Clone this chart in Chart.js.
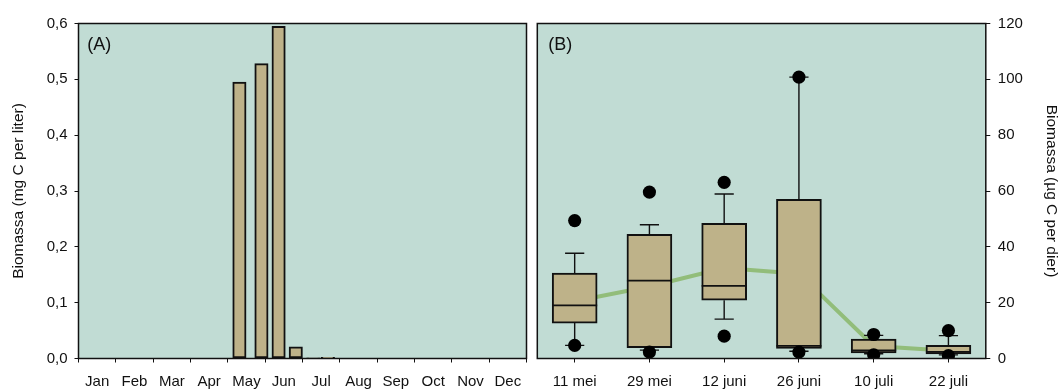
<!DOCTYPE html>
<html>
<head>
<meta charset="utf-8">
<script src="https://cdn.jsdelivr.net/npm/chart.js@4"></script>
<style>
  body { margin: 0; background: #fff; }
  #wrap { position: relative; width: 1061px; height: 390px; }
  #chartA { position: absolute; left: 0; top: 0; }
  #chartB { position: absolute; left: 530px; top: 0; }
</style>
</head>
<body>
<div id="wrap">
  <canvas id="chartA" width="530" height="390"></canvas>
  <canvas id="chartB" width="531" height="390"></canvas>
</div>
<script>
//////////////////////
// Panel A data: biomass per liter
//////////////////////
const months = ["Jan", "Feb", "Mar", "Apr", "May", "Jun", "Jul", "Aug", "Sep", "Oct", "Nov", "Dec"];
// sampling moments, in months from 1 January
const sampleMonth = [4.31, 4.90, 5.36, 5.82, 6.29, 6.68];
const biomassLiter = [0.495, 0.528, 0.595, 0.021, 0.001, 0.002];
const yTicksA = [0, 0.1, 0.2, 0.3, 0.4, 0.5, 0.6];

//////////////////////
// Panel B data: biomass per animal (box plots)
//////////////////////
const sampleDates = ["11 mei", "29 mei", "12 juni", "26 juni", "10 juli", "22 juli"];
const whiskerLow  = [4.7, 3.0, 14.1, 2.6, 1.7, 1.3];
const q1          = [12.7, 3.9, 20.9, 3.6, 2.0, 1.6];
const median      = [19.0, 27.9, 26.0, 4.5, 2.9, 2.4];
const q3          = [30.6, 44.5, 48.4, 57.0, 7.0, 4.7];
const whiskerHigh = [37.7, 47.9, 58.9, 100.8, 8.3, 8.2];
const meanValues  = [20.5, 25.8, 32.4, 30.4, 4.5, 2.8];
const outlierDate  = ["11 mei", "11 mei", "29 mei", "29 mei", "12 juni", "12 juni", "26 juni", "26 juni", "10 juli", "10 juli", "22 juli", "22 juli"];
const outlierValue = [49.4, 4.7, 59.6, 2.3, 63.1, 8.0, 100.8, 2.3, 8.6, 1.3, 10.0, 1.0];
const yTicksB = [0, 20, 40, 60, 80, 100, 120];

//////////////////////
// Styling
//////////////////////
const FONT = "'Liberation Sans', Arial, Helvetica, sans-serif";
const PANEL_BG = "rgb(193,220,212)";
const BAR_FILL = "rgb(190,178,137)";
const LINE_GREEN = "rgb(146,189,122)";
const INK = "#111";

Chart.defaults.font.family = FONT;
Chart.defaults.color = INK;
Chart.defaults.animation = false;
Chart.defaults.plugins.legend.display = false;
Chart.defaults.plugins.tooltip.enabled = false;

// x axes: fixed height, and no extra side padding for the outer labels
function fitXAxis(s) {
    s.height = 31.5;
    s.paddingLeft = 0;
    s.paddingRight = 0;
}

// background, frame and panel letter
const panelPlugin = {
    id: 'panel',
    beforeDraw(chart, args, opts) {
        const { ctx, chartArea: a } = chart;
        ctx.save();
        ctx.fillStyle = PANEL_BG;
        ctx.fillRect(a.left, a.top, a.right - a.left, a.bottom - a.top);
        ctx.restore();
    },
    afterDraw(chart, args, opts) {
        const { ctx, chartArea: a } = chart;
        ctx.save();
        ctx.strokeStyle = INK;
        ctx.lineWidth = 1.5;
        ctx.strokeRect(a.left, a.top, a.right - a.left, a.bottom - a.top);
        ctx.fillStyle = INK;
        ctx.font = "18px " + FONT;
        ctx.textBaseline = "alphabetic";
        ctx.fillText(opts.letter, a.left + opts.dx, a.top + 26.5);
        ctx.restore();
    }
};

//////////////////////
// Panel A
//////////////////////
new Chart(document.getElementById('chartA'), {
    type: 'bar',
    data: {
        datasets: [{
            data: sampleMonth.map((m, i) => ({ x: m, y: biomassLiter[i] })),
            backgroundColor: BAR_FILL,
            borderColor: INK,
            borderWidth: 2,
            borderSkipped: false,
            barThickness: 13.4
        }]
    },
    options: {
        responsive: false,
        layout: { padding: { left: 0, top: 23.5, right: 3.5, bottom: 0 } },
        scales: {
            x: {
                type: 'linear',
                min: 0,
                max: 12,
                offset: false,
                afterFit: fitXAxis,
                border: { display: false },
                grid: {
                    offset: false,
                    drawOnChartArea: false,
                    tickLength: 4,
                    tickWidth: 1,
                    tickColor: c => Number.isInteger(c.tick.value) ? INK : 'rgba(0,0,0,0)'
                },
                ticks: {
                    stepSize: 0.5,
                    autoSkip: false,
                    maxRotation: 0,
                    padding: 10,
                    font: { size: 15 },
                    callback: v => Number.isInteger(v) ? '' : months[Math.floor(v)]
                }
            },
            y: {
                min: 0,
                max: 0.6,
                afterFit: s => { s.width = 78.5; },
                afterBuildTicks: s => { s.ticks = yTicksA.map(v => ({ value: v })); },
                border: { display: false },
                grid: { drawOnChartArea: false, tickLength: 4, tickColor: INK },
                ticks: {
                    padding: 7,
                    font: { size: 15 },
                    callback: v => v.toFixed(1).replace('.', ',')
                },
                title: {
                    display: true,
                    text: 'Biomassa (mg C per liter)',
                    font: { size: 15.5 },
                    padding: { top: 9, bottom: 0 }
                }
            }
        },
        plugins: { panel: { letter: '(A)', dx: 8.8 } }
    },
    plugins: [panelPlugin]
});

//////////////////////
// Panel B: whiskers, caps and medians drawn on the library scales
//////////////////////
const boxPlugin = {
    id: 'boxExtras',
    afterDatasetDraw(chart, args) {
        if (args.index !== 1) return;
        const { ctx } = chart;
        const xs = chart.scales.x, ys = chart.scales.y;
        const bars = args.meta.data;
        ctx.save();
        ctx.strokeStyle = INK;
        sampleDates.forEach((d, i) => {
            const x = xs.getPixelForValue(i);
            const half = bars[i].width / 2;
            const cap = 9.6;
            ctx.lineWidth = 1.4;
            ctx.beginPath();
            ctx.moveTo(x, ys.getPixelForValue(q3[i]));
            ctx.lineTo(x, ys.getPixelForValue(whiskerHigh[i]));
            ctx.moveTo(x, ys.getPixelForValue(q1[i]));
            ctx.lineTo(x, ys.getPixelForValue(whiskerLow[i]));
            ctx.moveTo(x - cap, ys.getPixelForValue(whiskerHigh[i]));
            ctx.lineTo(x + cap, ys.getPixelForValue(whiskerHigh[i]));
            ctx.moveTo(x - cap, ys.getPixelForValue(whiskerLow[i]));
            ctx.lineTo(x + cap, ys.getPixelForValue(whiskerLow[i]));
            ctx.stroke();
            ctx.lineWidth = 1.8;
            ctx.beginPath();
            ctx.moveTo(x - half, ys.getPixelForValue(median[i]));
            ctx.lineTo(x + half, ys.getPixelForValue(median[i]));
            ctx.stroke();
        });
        ctx.restore();
    }
};

new Chart(document.getElementById('chartB'), {
    type: 'bar',
    data: {
        labels: sampleDates,
        datasets: [
            {
                type: 'scatter',
                data: outlierDate.map((d, i) => ({ x: d, y: outlierValue[i] })),
                pointRadius: 6.6,
                pointBackgroundColor: '#000',
                pointBorderWidth: 0,
                order: 0
            },
            {
                type: 'bar',
                data: q1.map((v, i) => [v, q3[i]]),
                backgroundColor: BAR_FILL,
                borderColor: INK,
                borderWidth: 2,
                borderSkipped: false,
                barThickness: 45,
                order: 1
            },
            {
                type: 'line',
                data: meanValues,
                borderColor: LINE_GREEN,
                borderWidth: 4,
                pointRadius: 0,
                tension: 0,
                order: 2
            }
        ]
    },
    options: {
        responsive: false,
        layout: { padding: { left: 7.3, top: 23.5, right: 0, bottom: 0 } },
        scales: {
            x: {
                type: 'category',
                offset: true,
                afterFit: fitXAxis,
                border: { display: false },
                grid: { offset: false, drawOnChartArea: false, tickLength: 4, tickColor: INK },
                ticks: { padding: 10, maxRotation: 0, autoSkip: false, font: { size: 15 } }
            },
            y: {
                position: 'right',
                min: 0,
                max: 120,
                afterFit: s => { s.width = 75.2; },
                afterBuildTicks: s => { s.ticks = yTicksB.map(v => ({ value: v })); },
                border: { display: false },
                grid: { drawOnChartArea: false, tickLength: 4.5, tickColor: INK },
                ticks: { padding: 7.5, font: { size: 15 } },
                title: {
                    display: true,
                    text: 'Biomassa (µg C per dier)',
                    font: { size: 15.5 },
                    padding: { top: 0.5, bottom: 0 }
                }
            }
        },
        plugins: { panel: { letter: '(B)', dx: 11 } }
    },
    plugins: [panelPlugin, boxPlugin]
});
</script>
</body>
</html>
